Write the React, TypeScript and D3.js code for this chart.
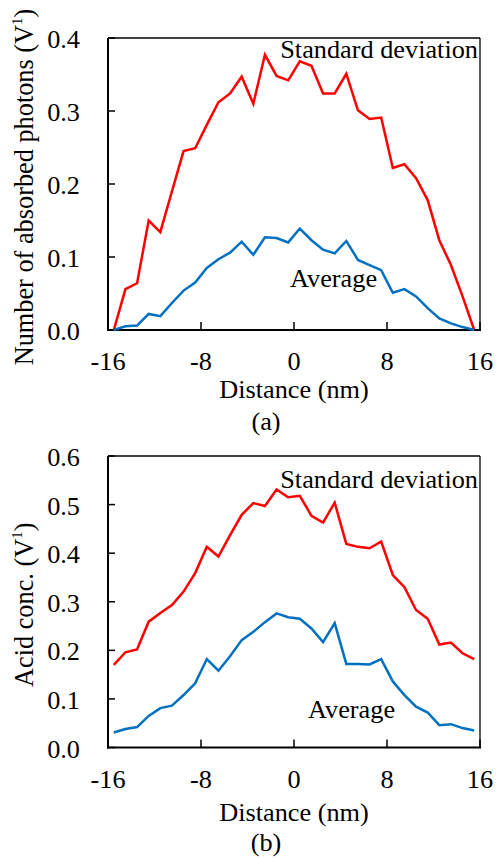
import React from "react";
import * as d3 from "d3";

const distance = d3.range(32).map((i) => -15.5 + i); // category positions (nm)
const xTicks = [-16, -8, 0, 8, 16];

const stdA = [0, 0.056, 0.064, 0.150, 0.134, 0.19, 0.245, 0.249, 0.281, 0.312, 0.324, 0.347, 0.310, 0.377, 0.348, 0.342, 0.368, 0.362, 0.324, 0.324, 0.351, 0.301, 0.289, 0.291, 0.222, 0.227, 0.208, 0.178, 0.123, 0.089, 0.046, 0];
const avgA = [0, 0.005, 0.006, 0.022, 0.019, 0.037, 0.054, 0.065, 0.085, 0.097, 0.106, 0.121, 0.103, 0.127, 0.126, 0.120, 0.139, 0.123, 0.110, 0.105, 0.122, 0.096, 0.089, 0.082, 0.051, 0.056, 0.046, 0.030, 0.016, 0.009, 0.004, 0];
const stdB = [0.170, 0.196, 0.202, 0.259, 0.277, 0.293, 0.321, 0.359, 0.413, 0.393, 0.437, 0.479, 0.503, 0.497, 0.531, 0.515, 0.518, 0.477, 0.463, 0.504, 0.419, 0.413, 0.410, 0.424, 0.355, 0.330, 0.283, 0.265, 0.212, 0.216, 0.194, 0.182];
const avgB = [0.031, 0.038, 0.042, 0.065, 0.081, 0.086, 0.108, 0.132, 0.182, 0.158, 0.188, 0.221, 0.238, 0.258, 0.276, 0.268, 0.265, 0.245, 0.217, 0.256, 0.172, 0.172, 0.171, 0.182, 0.136, 0.108, 0.084, 0.072, 0.046, 0.048, 0.040, 0.035];

const yTicksA = [0, 0.1, 0.2, 0.3, 0.4];
const yTicksB = [0, 0.1, 0.2, 0.3, 0.4, 0.5, 0.6];

const FONT = "Liberation Serif";
const FS = 26.3;
const SY = 0.93; // vertical squeeze of horizontal text seen in the reference
const RED = "#FF0000";
const BLUE = "#0070C0";

type PanelProps = {
  top: number;
  bottom: number;
  yMax: number;
  yTicks: number[];
  std: number[];
  avg: number[];
  yTitle: string;
  label: string;
  stdLabelY: number;
  avgLabel: { x: number; y: number };
  tickLabelY: number;
  axisTitleY: number;
  panelLabelY: number;
  panelLabelX: number;
};

const left = 108;
const right = 480;

function T(props: { x: number; y: number; anchor: "start" | "middle" | "end"; children: React.ReactNode }) {
  return (
    <text
      transform={`translate(${props.x},${props.y}) scale(1,${SY})`}
      fontFamily={FONT}
      fontSize={FS}
      fill="#000"
      textAnchor={props.anchor}
    >
      {props.children}
    </text>
  );
}

function Panel(p: PanelProps) {
  const x = d3.scaleLinear().domain([-16, 16]).range([left, right]);
  const y = d3.scaleLinear().domain([0, p.yMax]).range([p.bottom, p.top]);
  const line = d3
    .line<number>()
    .x((_, i) => x(distance[i]))
    .y((d) => y(d));
  const mid = (p.top + p.bottom) / 2;
  return (
    <g>
      {/* frame */}
      <line x1={left} x2={right} y1={p.top} y2={p.top} stroke="#000" strokeWidth={1.3} />
      <line x1={right} x2={right} y1={p.top} y2={p.bottom} stroke="#000" strokeWidth={1.3} />
      {/* y ticks */}
      {p.yTicks.map((t) => (
        <g key={"y" + t}>
          <line x1={left} x2={left + 7} y1={y(t)} y2={y(t)} stroke="#000" strokeWidth={1.5} />
          <T x={80} y={y(t) + 10} anchor="end">
            {t.toFixed(1)}
          </T>
        </g>
      ))}
      {/* x ticks */}
      {xTicks.map((t) => (
        <g key={"x" + t}>
          <line x1={x(t)} x2={x(t)} y1={p.bottom} y2={p.bottom - 8} stroke="#000" strokeWidth={1.5} />
          <T x={x(t)} y={p.tickLabelY} anchor="middle">
            {t}
          </T>
        </g>
      ))}
      <line x1={left} x2={left} y1={p.top} y2={p.bottom + 1} stroke="#000" strokeWidth={2} />
      <line x1={left - 1} x2={right + 1} y1={p.bottom} y2={p.bottom} stroke="#000" strokeWidth={2} />
      {/* series */}
      <path d={line(p.std) ?? ""} fill="none" stroke={RED} strokeWidth={2.5} strokeLinejoin="miter" />
      <path d={line(p.avg) ?? ""} fill="none" stroke={BLUE} strokeWidth={2.5} strokeLinejoin="miter" />
      {/* labels */}
      <T x={478} y={p.stdLabelY} anchor="end">
        Standard deviation
      </T>
      <T x={p.avgLabel.x} y={p.avgLabel.y} anchor="start">
        Average
      </T>
      <T x={(left + right) / 2} y={p.axisTitleY} anchor="middle">
        Distance (nm)
      </T>
      <T x={p.panelLabelX} y={p.panelLabelY} anchor="middle">
        {p.label}
      </T>
      <text
        fontFamily={FONT}
        fontSize={FS}
        fill="#000"
        transform={`translate(33,${mid + 3}) rotate(-90)`}
        textAnchor="middle"
      >
        {p.yTitle} (V
        <tspan fontSize={15} dy={-11}>
          1
        </tspan>
        <tspan dy={11}>)</tspan>
      </text>
    </g>
  );
}

export default function App() {
  return (
    <svg
      width={497}
      height={858}
      style={{ position: "absolute", left: 0, top: 0, background: "#fff" }}
    >
      <rect width={497} height={858} fill="#fff" />
      <Panel
        top={38}
        bottom={330}
        yMax={0.4}
        yTicks={yTicksA}
        std={stdA}
        avg={avgA}
        yTitle="Number of absorbed photons"
        label="(a)"
        stdLabelY={58}
        avgLabel={{ x: 290, y: 287 }}
        tickLabelY={370}
        axisTitleY={398}
        panelLabelY={430}
        panelLabelX={266}
      />
      <Panel
        top={456}
        bottom={747.5}
        yMax={0.6}
        yTicks={yTicksB}
        std={stdB}
        avg={avgB}
        yTitle="Acid conc."
        label="(b)"
        stdLabelY={488}
        avgLabel={{ x: 308, y: 718 }}
        tickLabelY={788}
        axisTitleY={821}
        panelLabelY={851}
        panelLabelX={266}
      />
    </svg>
  );
}
